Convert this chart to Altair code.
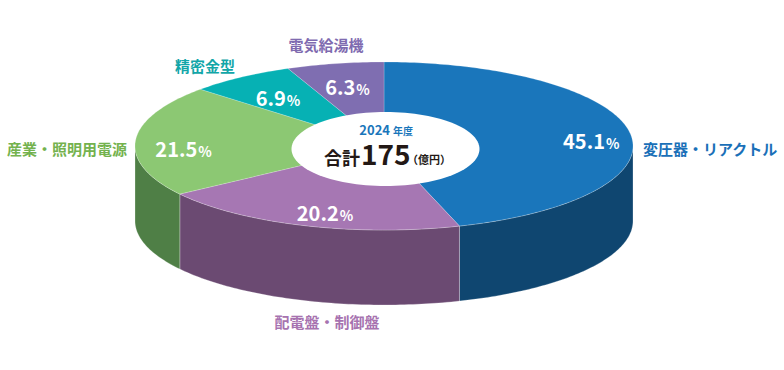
import altair as alt
import numpy as np
import pandas as pd

# ---------------- data ----------------
categories = ["変圧器・リアクトル", "配電盤・制御盤", "産業・照明用電源", "精密金型", "電気給湯機"]
shares = [45.1, 20.2, 21.5, 6.9, 6.3]
total_value = "175"
year_label = "2024"
year_suffix = "年度"
total_prefix = "合計"
unit_label = "（億円）"

# ---------------- style / layout ----------------
top_colors = ["#1a76bb", "#a677b3", "#8cc873", "#06b1b4", "#7f6eb1"]
side_colors = ["#0f4670", "#6b4a72", "#4f7f46", "#05787a", "#564a80"]
label_colors = ["#1a70b8", "#a773b0", "#74b24e", "#12a6a8", "#7f6bb0"]
FONT = "Noto Sans CJK JP"
CX, CY, RX, RY, DEPTH = 384, 146, 249, 84, 75
W, H = 784, 370
# outer label anchors (x, middle y, align)
outer_pos = [(643, 150, "left"), (327, 323, "center"), (127, 150, "right"),
             (205, 67, "center"), (326, 46, "center")]
inner_nudge = [(16, 0), (4, 0), (-6, 2), (6, 1), (2, 0)]
PROJ = dict(type="identity", scale=1, translate=[0, 0])


def ell(theta_deg, k=1.0, dy=0.0):
    t = np.radians(theta_deg)
    return [float(CX + RX * k * np.sin(t)), float(CY - RY * k * np.cos(t) + dy)]


def arc(a, b, k=1.0, dy=0.0):
    n = max(int(abs(b - a)) + 2, 3)
    return [ell(t, k, dy) for t in np.linspace(a, b, n)]


cum = np.concatenate([[0], np.cumsum(shares)])
angles = cum / cum[-1] * 360.0

tops, sides = [], []
for i, cat in enumerate(categories):
    a, b = angles[i], angles[i + 1]
    ring = [[CX, CY]] + arc(a, b) + [[CX, CY]]
    tops.append({"type": "Feature", "geometry": {"type": "Polygon", "coordinates": [ring]},
                 "properties": {"key": f"top{i}"}})
    sa, sb = max(a, 90.0), min(b, 270.0)
    if sb > sa:
        upper = arc(sa, sb)
        lower = arc(sb, sa, dy=DEPTH)
        ring = upper + lower + [upper[0]]
        sides.append({"type": "Feature", "geometry": {"type": "Polygon", "coordinates": [ring]},
                      "properties": {"key": f"side{i}"}})

center_ring = [[float(CX + 1.5 + 94 * np.sin(t)), float(CY + 3 - 37 * np.cos(t))]
               for t in np.linspace(0, 2 * np.pi, 121)]
center_feat = [{"type": "Feature", "geometry": {"type": "Polygon", "coordinates": [center_ring]},
                "properties": {"key": "center"}}]

keys = [f"top{i}" for i in range(5)] + [f"side{i}" for i in range(5)] + ["center"]
cols = top_colors + side_colors + ["#ffffff"]
color_enc = alt.Color("properties.key:N", scale=alt.Scale(domain=keys, range=cols), legend=None)

side_layer = alt.Chart(alt.Data(values=sides)).mark_geoshape(
    stroke="#ffffff", strokeWidth=0.5, strokeOpacity=0.5).encode(color=color_enc).project(**PROJ)
top_layer = alt.Chart(alt.Data(values=tops)).mark_geoshape(
    stroke="#ffffff", strokeWidth=0.5, strokeOpacity=0.4).encode(color=color_enc).project(**PROJ)
center_layer = alt.Chart(alt.Data(values=center_feat)).mark_geoshape(
    strokeWidth=0).encode(color=color_enc).project(**PROJ)

# inner percentage labels
num_rows, pct_rows = [], []
for i, s in enumerate(shares):
    mid = (angles[i] + angles[i + 1]) / 2
    cx, cy = ell(mid, k=0.78)
    cx += inner_nudge[i][0]
    cy += 6 + inner_nudge[i][1]
    txt = f"{s:.1f}"
    num_w = 11.2 * (len(txt) - 1) + 5.5
    pct_w = 13
    anchor = cx + (num_w - pct_w) / 2
    base = cy + 7
    num_rows.append({"x": anchor, "y": base, "t": txt})
    pct_rows.append({"x": anchor + 1, "y": base, "t": "%"})

num_layer = alt.Chart(pd.DataFrame(num_rows)).mark_text(
    font=FONT, fontWeight="bold", fontSize=20, color="#ffffff", align="right", baseline="alphabetic"
).encode(longitude="x:Q", latitude="y:Q", text="t:N").project(**PROJ)
pct_layer = alt.Chart(pd.DataFrame(pct_rows)).mark_text(
    font=FONT, fontWeight="bold", fontSize=14, color="#ffffff", align="left", baseline="alphabetic"
).encode(longitude="x:Q", latitude="y:Q", text="t:N").project(**PROJ)

# outer category labels
outer_layers = []
for align in ["left", "center", "right"]:
    rows = [{"x": outer_pos[i][0], "y": outer_pos[i][1], "t": categories[i], "c": label_colors[i]}
            for i in range(5) if outer_pos[i][2] == align]
    outer_layers.append(alt.Chart(pd.DataFrame(rows)).mark_text(
        font=FONT, fontWeight="bold", fontSize=15, align=align, baseline="middle"
    ).encode(longitude="x:Q", latitude="y:Q", text="t:N",
             color=alt.Color("c:N", scale=None)).project(**PROJ))

# centre texts
center_rows = [
    {"x": CX + 6, "y": CY - 11, "t": year_label, "s": 13, "c": "#1a76bb", "a": "right"},
    {"x": CX + 9, "y": CY - 11, "t": year_suffix, "s": 10, "c": "#1a76bb", "a": "left"},
    {"x": CX - 60, "y": CY + 19, "t": total_prefix, "s": 18, "c": "#231815", "a": "left"},
    {"x": CX - 23, "y": CY + 19, "t": total_value, "s": 28, "c": "#231815", "a": "left"},
    {"x": CX + 23, "y": CY + 18, "t": unit_label, "s": 11, "c": "#231815", "a": "left"},
]
center_text_layers = []
for align in ["right", "left"]:
    rows = [r for r in center_rows if r["a"] == align]
    center_text_layers.append(alt.Chart(pd.DataFrame(rows)).mark_text(
        font=FONT, fontWeight="bold", align=align, baseline="alphabetic"
    ).encode(longitude="x:Q", latitude="y:Q", text="t:N",
             color=alt.Color("c:N", scale=None),
             size=alt.Size("s:Q", scale=None)).project(**PROJ))

chart = alt.layer(
    side_layer, top_layer, center_layer, num_layer, pct_layer, *outer_layers, *center_text_layers
).properties(
    width=W, height=H, padding=0, autosize="none", background="#ffffff"
).configure_view(stroke=None)

chart.save("out.html", embed_options={"renderer": "svg", "actions": False})
